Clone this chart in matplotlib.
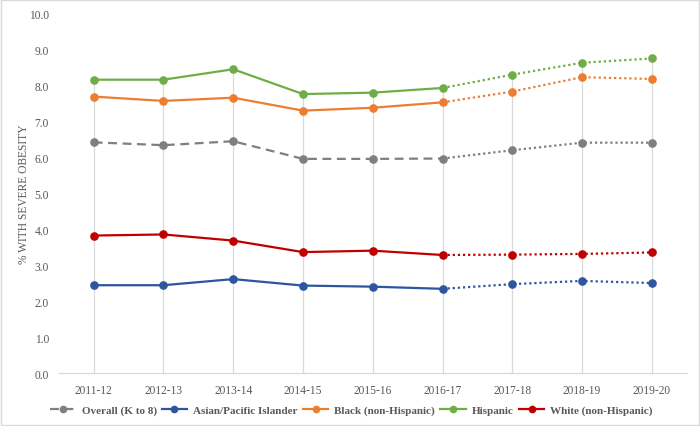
import matplotlib.pyplot as plt
from matplotlib.lines import Line2D

years = ['2011-12', '2012-13', '2013-14', '2014-15', '2015-16',
         '2016-17', '2017-18', '2018-19', '2019-20']

overall = [6.41, 6.33, 6.44, 5.95, 5.95, 5.96, 6.19, 6.40, 6.40]
asian = [2.44, 2.44, 2.61, 2.43, 2.40, 2.34, 2.47, 2.56, 2.50]
black = [7.68, 7.56, 7.65, 7.29, 7.37, 7.52, 7.82, 8.22, 8.17]
hispanic = [8.15, 8.15, 8.44, 7.75, 7.79, 7.92, 8.29, 8.62, 8.74]
white = [3.82, 3.85, 3.68, 3.36, 3.40, 3.28, 3.29, 3.31, 3.35]

series = [
    ('Overall (K to 8)', overall, '#7f7f7f', (0, (4, 2.5))),
    ('Asian/Pacific Islander', asian, '#2f55a0', '-'),
    ('Black (non-Hispanic)', black, '#ed7d31', '-'),
    ('Hispanic', hispanic, '#70ad47', '-'),
    ('White (non-Hispanic)', white, '#c00000', '-'),
]
split = 5  # index of 2016-17, dotted afterwards

plt.rcParams['font.family'] = ['Liberation Serif', 'DejaVu Serif']

fig = plt.figure(figsize=(7, 4.27), dpi=100)
ax = fig.add_axes([0.084, 0.124, 0.897, 0.843])

x = list(range(len(years)))

# drop lines from the highest point of each category down to the axis
tops = [max(v) for v in zip(overall, asian, black, hispanic, white)]
ax.vlines(x, 0, tops, color='#d9d9d9', linewidth=0.9, zorder=1)

handles = []
for name, vals, color, ls in series:
    ax.plot(x[:split + 1], vals[:split + 1], color=color, linestyle=ls,
            linewidth=1.6, zorder=3)
    ax.plot(x[split:], vals[split:], color=color, linestyle=(0, (1, 1.3)),
            linewidth=1.6, zorder=3)
    ax.plot(x, vals, linestyle='none', marker='o', markersize=5.2,
            color=color, zorder=4)
    handles.append(Line2D([], [], color=color, linestyle=ls, linewidth=1.6,
                          marker='o', markersize=4.5, label=name))

ax.set_xlim(-0.5, len(years) - 0.5)
ax.set_ylim(0, 10)
ax.set_yticks([i * 1.0 for i in range(11)])
ax.set_yticklabels([f'{i:.1f}' for i in range(11)])
ax.set_xticks(x)
ax.set_xticklabels(years)
ax.tick_params(axis='both', length=0, labelsize=8.3, colors='#595959', pad=8)
ax.tick_params(axis='y', pad=7)

for side in ['top', 'right', 'left']:
    ax.spines[side].set_visible(False)
ax.spines['bottom'].set_color('#d9d9d9')
ax.spines['bottom'].set_linewidth(0.9)

ax.set_ylabel('% WITH SEVERE OBESITY', fontsize=8.3, color='#595959', labelpad=-1)

leg = fig.legend(handles=handles, loc='center', bbox_to_anchor=(0.502, 0.037),
                 ncol=5, frameon=False, handlelength=2.3, columnspacing=0.45,
                 handletextpad=0.55, prop={'size': 8, 'weight': 'bold'})
for t in leg.get_texts():
    t.set_color('#595959')

# light border around the figure
fig.patches.append(plt.Rectangle((0.001, 0.002), 0.997, 0.995, transform=fig.transFigure,
                                 fill=False, edgecolor='#d9d9d9', linewidth=1))

fig.savefig('out.png', dpi=100)
